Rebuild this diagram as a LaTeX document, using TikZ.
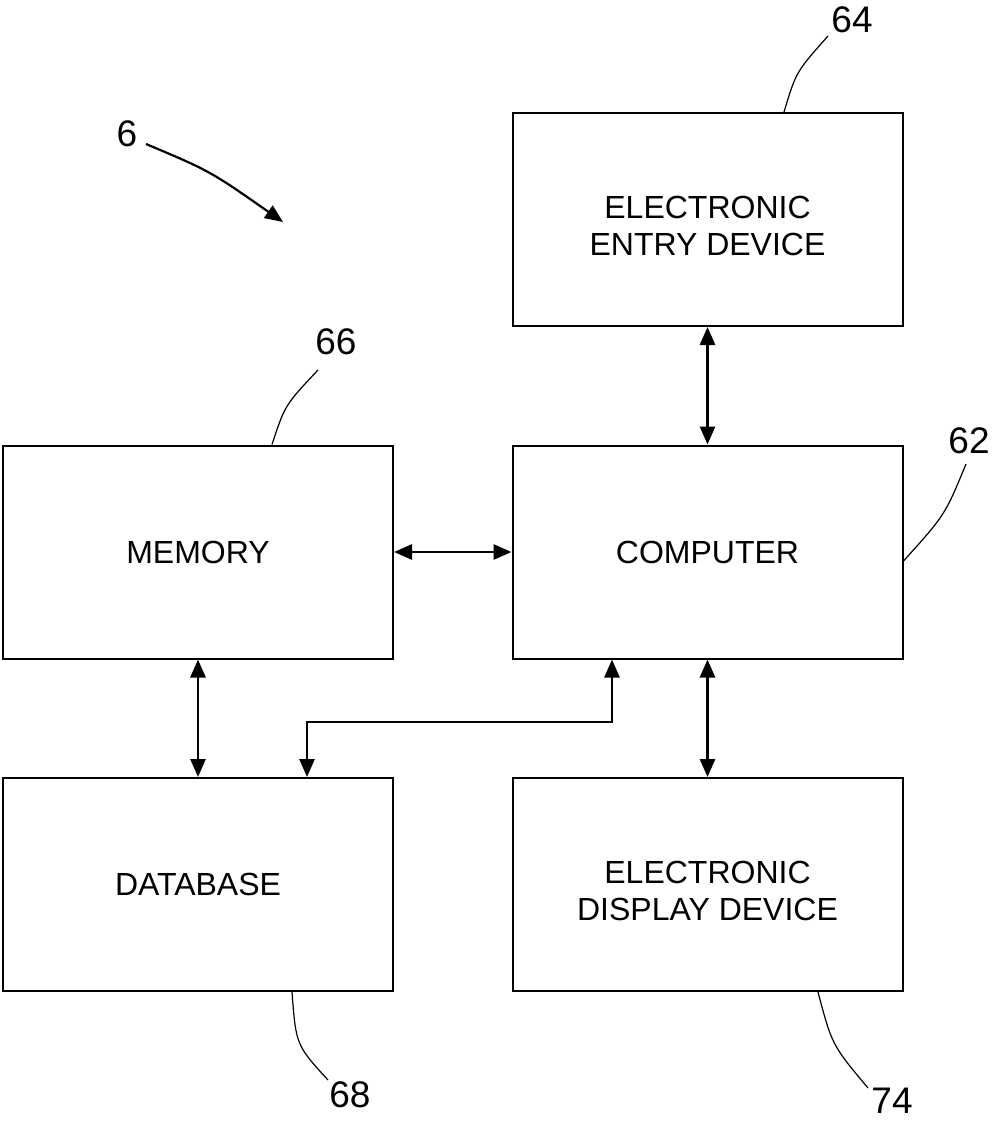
\documentclass[tikz,border=0pt]{standalone}
\usepackage{fontspec}
\setmainfont{Liberation Sans}
\usetikzlibrary{arrows.meta}
\begin{document}
\begin{tikzpicture}[x=1pt,y=-1pt,
 blk/.style={draw,line width=2pt,minimum width=390pt,minimum height=213pt,inner sep=0pt,align=center,font=\fontsize{32}{37}\selectfont},
 txt2/.style={font=\fontsize{32}{37}\selectfont,align=center,yshift=-6.5pt},
 conn/.style={line width=2.8pt,{Triangle[length=18pt,width=15pt]}-{Triangle[length=18pt,width=15pt]}},
 lead/.style={line width=1.2pt},
 num/.style={font=\fontsize{37}{40}\selectfont,inner sep=0pt}]
\useasboundingbox (0,0) rectangle (992,1121);
\node[blk,label={[txt2]center:ELECTRONIC\\ENTRY DEVICE}] (entry) at (707.5,219.5) {};
\node[blk] (memory) at (198,552) {MEMORY};
\node[blk] (computer) at (707.5,552) {COMPUTER};
\node[blk] (database) at (198,884.5) {DATABASE};
\node[blk,label={[txt2]center:ELECTRONIC\\DISPLAY DEVICE}] (display) at (707.5,884.5) {};
\draw[conn] (entry.south) -- (computer.north);
\draw[conn] (memory.east) -- (computer.west);
\draw[conn] (memory.south) -- (database.north);
\draw[conn] (computer.south) -- (display.north);
\coordinate (bend) at (307,722);
\draw[conn] ([xshift=-95.5pt]computer.south) |- (bend) -- (bend |- database.north);
% numerals
\node[num] (n6) at (127,134) {6};
\node[num] (n64) at (852,20) {64};
\node[num] (n66) at (336,342) {66};
\node[num] (n62) at (969,441) {62};
\node[num] (n68) at (350,1095) {68};
\node[num] (n74) at (892,1101) {74};
\coordinate (c6) at (146,144);
\coordinate (t6) at (283,222);
\draw[line width=2.2pt,-{Triangle[length=18pt,width=15pt]}] (c6) .. controls (210,171) .. (t6);
\coordinate (l64) at (828,36);
\draw[lead] ([xshift=76.5pt]entry.north) .. controls (796,72) .. (l64);
\coordinate (l66) at (318,370);
\draw[lead] ([xshift=74pt]memory.north) .. controls (285,405) .. (l66);
\coordinate (l62) at (966,464);
\draw[lead] ([yshift=-9pt]computer.east) .. controls (945,515) .. (l62);
\coordinate (l68) at (328,1080);
\draw[lead] ([xshift=94pt]database.south) .. controls (296,1045) .. (l68);
\coordinate (l74) at (868,1088);
\draw[lead] ([xshift=110.5pt]display.south) .. controls (832,1045) .. (l74);
\end{tikzpicture}
\end{document}
